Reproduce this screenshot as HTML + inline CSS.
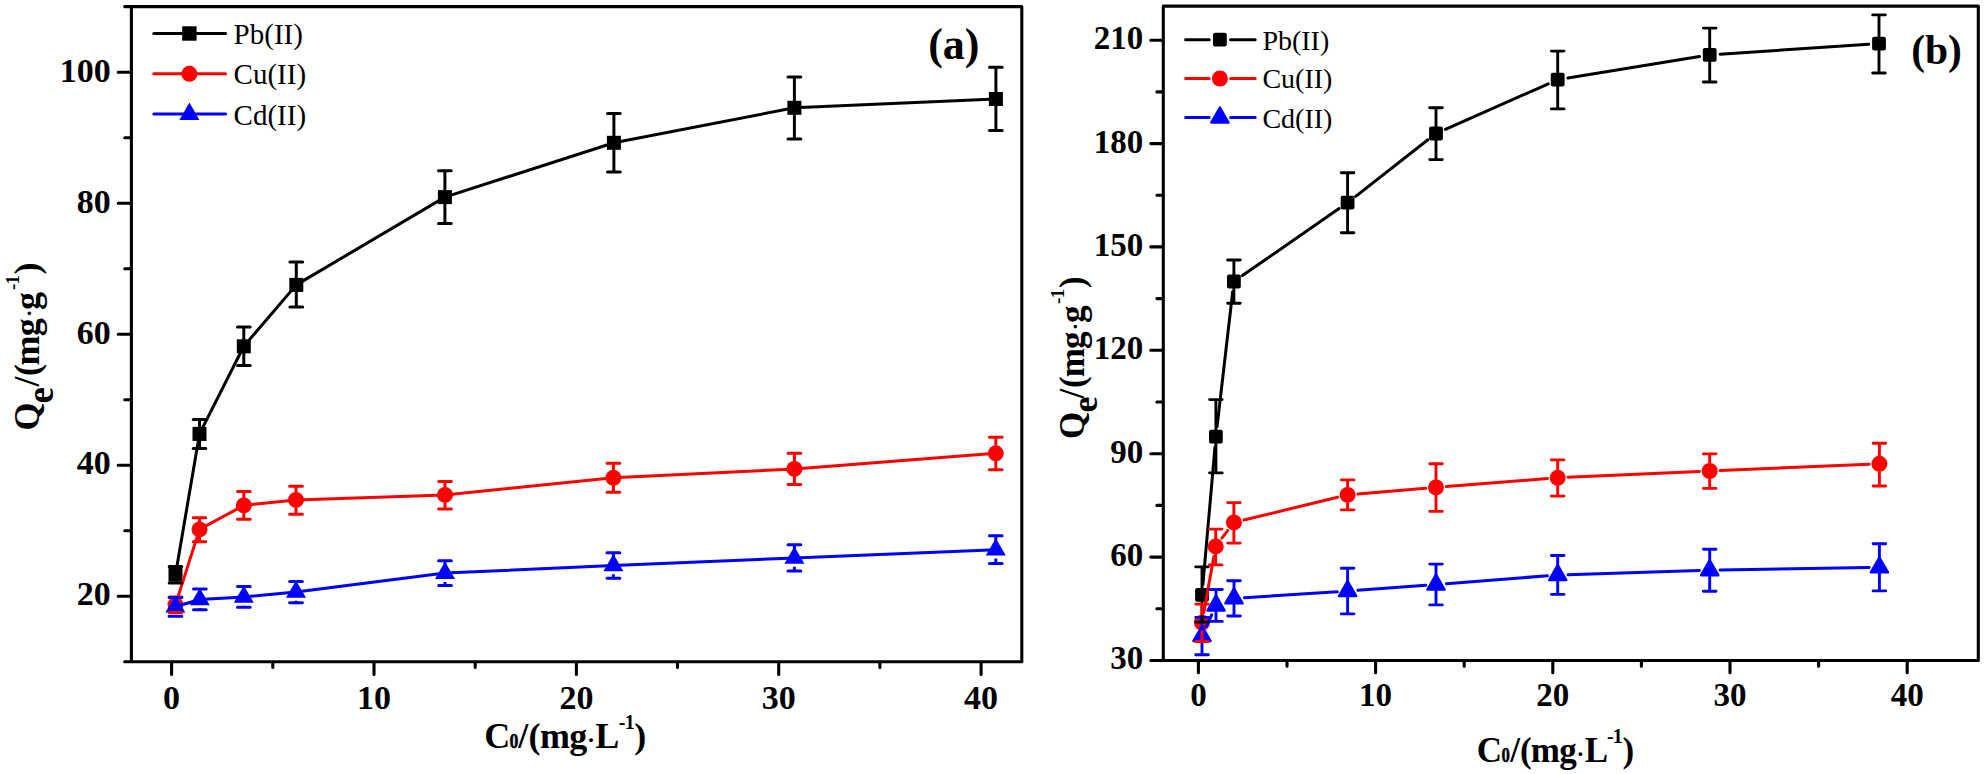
<!DOCTYPE html>
<html lang="en"><head><meta charset="utf-8"><title>Adsorption isotherms</title>
<style>html,body{margin:0;padding:0;background:#fff}svg{display:block}</style></head>
<body>
<svg width="1984" height="774" viewBox="0 0 1984 774">
<rect width="1984" height="774" fill="#fff"/>
<g id="plotA">
<path fill="none" stroke="#000" stroke-width="3.1" stroke-linecap="round" stroke-linejoin="round" d="M124.7 6.6H1021.8V661.8H124.7M131.4 6.6V661.8M118.2 596.2H131.4M118.2 465.2H131.4M118.2 334.3H131.4M118.2 203.3H131.4M118.2 72.3H131.4M124.8 530.7H131.4M124.8 399.8H131.4M124.8 268.8H131.4M124.8 137.8H131.4M171.6 661.8V674.4M374 661.8V674.4M576.4 661.8V674.4M778.7 661.8V674.4M981.1 661.8V674.4M272.8 661.8V667.5M475.2 661.8V667.5M677.5 661.8V667.5M879.9 661.8V667.5"/>
<g font-family="'Liberation Serif',serif" font-weight="bold" font-size="34px" fill="#000">
<text x="110.7" y="605.4" text-anchor="end">20</text>
<text x="110.7" y="474.4" text-anchor="end">40</text>
<text x="110.7" y="343.5" text-anchor="end">60</text>
<text x="110.7" y="212.5" text-anchor="end">80</text>
<text x="110.7" y="81.5" text-anchor="end">100</text>
<text x="171.6" y="709.2" text-anchor="middle">0</text>
<text x="374" y="709.2" text-anchor="middle">10</text>
<text x="576.4" y="709.2" text-anchor="middle">20</text>
<text x="778.7" y="709.2" text-anchor="middle">30</text>
<text x="981.1" y="709.2" text-anchor="middle">40</text>
</g>
<polyline fill="none" stroke="#000" stroke-width="3" stroke-linejoin="round" points="175.5,574.7 199.5,433.9 243.8,346.3 296.3,284.9 444.9,197.1 613.9,142.8 794.4,107.8 995.9,99"/>
<rect x="168.5" y="567.7" width="14" height="14" fill="#000"/>
<rect x="192.5" y="426.9" width="14" height="14" fill="#000"/>
<rect x="236.8" y="339.3" width="14" height="14" fill="#000"/>
<rect x="289.3" y="277.9" width="14" height="14" fill="#000"/>
<rect x="437.9" y="190.1" width="14" height="14" fill="#000"/>
<rect x="606.9" y="135.8" width="14" height="14" fill="#000"/>
<rect x="787.4" y="100.8" width="14" height="14" fill="#000"/>
<rect x="988.9" y="92" width="14" height="14" fill="#000"/>
<polyline fill="none" stroke="#ff0000" stroke-width="3" stroke-linejoin="round" points="175.5,604.6 199.5,529.4 243.8,505.4 296,499.9 445,494.9 613.4,477.8 794.4,468.9 995.8,453.3"/>
<circle cx="175.5" cy="604.6" r="8" fill="#ff0000"/>
<circle cx="199.5" cy="529.4" r="8" fill="#ff0000"/>
<circle cx="243.8" cy="505.4" r="8" fill="#ff0000"/>
<circle cx="296" cy="499.9" r="8" fill="#ff0000"/>
<circle cx="445" cy="494.9" r="8" fill="#ff0000"/>
<circle cx="613.4" cy="477.8" r="8" fill="#ff0000"/>
<circle cx="794.4" cy="468.9" r="8" fill="#ff0000"/>
<circle cx="995.8" cy="453.3" r="8" fill="#ff0000"/>
<polyline fill="none" stroke="#0000ff" stroke-width="3" stroke-linejoin="round" points="175.4,606.8 199.8,599.5 243.8,597 296,592 445,573.1 613.4,565.5 794.4,557.9 995.8,549.7"/>
<polygon points="175.4,595.3 165.4,612.6 185.4,612.6" fill="#0000ff"/>
<polygon points="199.8,588 189.8,605.3 209.8,605.3" fill="#0000ff"/>
<polygon points="243.8,585.5 233.8,602.8 253.8,602.8" fill="#0000ff"/>
<polygon points="296,580.5 286,597.8 306,597.8" fill="#0000ff"/>
<polygon points="445,561.6 435,578.9 455,578.9" fill="#0000ff"/>
<polygon points="613.4,554 603.4,571.3 623.4,571.3" fill="#0000ff"/>
<polygon points="794.4,546.4 784.4,563.7 804.4,563.7" fill="#0000ff"/>
<polygon points="995.8,538.2 985.8,555.5 1005.8,555.5" fill="#0000ff"/>
<path fill="none" stroke="#000" stroke-width="3" d="M175.5 566.4V568.2M175.5 581.2V583M199.5 419.6V427.4M199.5 440.4V448.5M243.8 327.1V339.8M243.8 352.8V365.5M296.3 262.1V278.4M296.3 291.4V307.1M444.9 170.8V190.6M444.9 203.6V223.6M613.9 113.4V136.3M613.9 149.3V171.9M794.4 76.9V101.3M794.4 114.3V138.9M995.9 67.2V92.5M995.9 105.5V130.4"/>
<path fill="none" stroke="#000" stroke-width="3" stroke-linecap="round" d="M169.2 566.4H181.8M169.2 583H181.8M193.2 419.6H205.8M193.2 448.5H205.8M237.5 327.1H250.2M237.5 365.5H250.2M289.9 262.1H302.7M289.9 307.1H302.7M438.5 170.8H451.2M438.5 223.6H451.2M607.5 113.4H620.2M607.5 171.9H620.2M788 76.9H800.8M788 138.9H800.8M989.5 67.2H1002.2M989.5 130.4H1002.2"/>
<path fill="none" stroke="#ff0000" stroke-width="3" d="M175.5 597V597.1M175.5 612.1V612.5M199.5 517.7V521.9M199.5 536.9V541.7M243.8 491.6V497.9M243.8 512.9V519.2M296 486.3V492.4M296 507.4V514.2M445 481.4V487.4M445 502.4V509M613.4 463.2V470.3M613.4 485.3V492.2M794.4 453.3V461.4M794.4 476.4V484.5M995.8 437.2V445.8M995.8 460.8V469.8"/>
<path fill="none" stroke="#ff0000" stroke-width="3" stroke-linecap="round" d="M169.2 597H181.8M169.2 612.5H181.8M193.2 517.7H205.8M193.2 541.7H205.8M237.5 491.6H250.2M237.5 519.2H250.2M289.6 486.3H302.4M289.6 514.2H302.4M438.6 481.4H451.4M438.6 509H451.4M607 463.2H619.8M607 492.2H619.8M788 453.3H800.8M788 484.5H800.8M989.4 437.2H1002.1M989.4 469.8H1002.1"/>
<path fill="none" stroke="#0000ff" stroke-width="3" d="M175.4 597.4V598M175.4 615.6V616.2M199.8 589.1V590.7M199.8 608.3V609.8M243.8 586.6V588.2M243.8 605.8V607.3M296 581.4V583.2M296 600.8V602.7M445 560.8V564.3M445 581.9V585.4M613.4 552.8V556.7M613.4 574.3V578.2M794.4 544.7V549.1M794.4 566.7V571.1M995.8 535.7V540.9M995.8 558.5V563.6"/>
<path fill="none" stroke="#0000ff" stroke-width="3" stroke-linecap="round" d="M169.1 597.4H181.8M169.1 616.2H181.8M193.5 589.1H206.2M193.5 609.8H206.2M237.5 586.6H250.2M237.5 607.3H250.2M289.6 581.4H302.4M289.6 602.7H302.4M438.6 560.8H451.4M438.6 585.4H451.4M607 552.8H619.8M607 578.2H619.8M788 544.7H800.8M788 571.1H800.8M989.4 535.7H1002.1M989.4 563.6H1002.1"/>
<path stroke="#000" stroke-width="3" stroke-linecap="round" d="M153.8 33.5H225.6"/>
<path stroke="#ff0000" stroke-width="3" stroke-linecap="round" d="M153.8 73.8H225.6"/>
<path stroke="#0000ff" stroke-width="3" stroke-linecap="round" d="M153.8 114.1H225.6"/>
<rect x="182.2" y="26.3" width="14.4" height="14.4" fill="#000"/>
<circle cx="189.4" cy="73.8" r="8" fill="#ff0000"/>
<polygon points="189.4,102.6 179.4,119.9 199.4,119.9" fill="#0000ff"/>
<g font-family="'Liberation Serif',serif" font-size="29px" fill="#000">
<text x="233.6" y="44.4">Pb(II)</text><text x="233.6" y="83.9">Cu(II)</text><text x="233.6" y="124.7">Cd(II)</text>
</g>
<text x="928.2" y="58.9" font-family="'Liberation Serif',serif" font-weight="bold" font-size="44px" fill="#000">(a)</text>
<text font-family="'Liberation Serif',serif" font-weight="bold" fill="#000"><tspan x="484.2" y="747.6" font-size="36px">C</tspan><tspan x="509.5" y="747.6" font-size="21px" textLength="8.9" lengthAdjust="spacingAndGlyphs" stroke="#000" stroke-width="0.5">0</tspan><tspan x="518.2" y="747.6" font-size="36px">/</tspan><tspan x="528.5" y="747.6" font-size="36px">(</tspan><tspan x="539.9" y="747.6" font-size="36px">m</tspan><tspan x="569.2" y="747.6" font-size="36px">g</tspan><tspan x="587" y="747.6" font-size="24px">·</tspan><tspan x="595.2" y="747.6" font-size="36px">L</tspan><tspan x="618.8" y="728.6" font-size="20px">-</tspan><tspan x="624.8" y="728.6" font-size="20px">1</tspan><tspan x="634.2" y="747.6" font-size="36px">)</tspan></text>
<text transform="rotate(-90)" font-family="'Liberation Serif',serif" font-weight="bold" fill="#000"><tspan x="-430.6" y="38.5" font-size="36px">Q</tspan><tspan x="-403.5" y="52.9" font-size="37px">e</tspan><tspan x="-386.4" y="38.5" font-size="36px">/</tspan><tspan x="-376" y="38.5" font-size="36px">(</tspan><tspan x="-365.6" y="38.5" font-size="36px">m</tspan><tspan x="-336.2" y="38.5" font-size="36px">g</tspan><tspan x="-317" y="36.3" font-size="22px">·</tspan><tspan x="-310" y="38.5" font-size="36px">g</tspan><tspan x="-290" y="18.5" font-size="19px">-</tspan><tspan x="-284.5" y="18.5" font-size="19px">1</tspan><tspan x="-274.5" y="38.5" font-size="36px">)</tspan></text>
</g>
<g id="plotB">
<path fill="none" stroke="#000" stroke-width="3.1" stroke-linecap="round" stroke-linejoin="round" d="M1163.3 6.1H1978.3V660.5H1150.8M1163.3 6.1V660.5M1150.8 557.1H1163.3M1150.8 453.7H1163.3M1150.8 350.3H1163.3M1150.8 246.9H1163.3M1150.8 143.6H1163.3M1150.8 40.2H1163.3M1156.9 608.8H1163.3M1156.9 505.4H1163.3M1156.9 402H1163.3M1156.9 298.6H1163.3M1156.9 195.3H1163.3M1156.9 91.9H1163.3M1198.4 660.5V672.7M1375.6 660.5V672.7M1552.8 660.5V672.7M1730 660.5V672.7M1907.2 660.5V672.7M1287 660.5V666.3M1464.2 660.5V666.3M1641.4 660.5V666.3M1818.6 660.5V666.3"/>
<g font-family="'Liberation Serif',serif" font-weight="bold" font-size="33px" fill="#000">
<text x="1143.3" y="669.4" text-anchor="end">30</text>
<text x="1143.3" y="566.1" text-anchor="end">60</text>
<text x="1143.3" y="462.7" text-anchor="end">90</text>
<text x="1143.3" y="359.3" text-anchor="end">120</text>
<text x="1143.3" y="255.9" text-anchor="end">150</text>
<text x="1143.3" y="152.6" text-anchor="end">180</text>
<text x="1143.3" y="49.2" text-anchor="end">210</text>
<text x="1198.4" y="706.3" text-anchor="middle">0</text>
<text x="1375.6" y="706.3" text-anchor="middle">10</text>
<text x="1552.8" y="706.3" text-anchor="middle">20</text>
<text x="1730" y="706.3" text-anchor="middle">30</text>
<text x="1907.2" y="706.3" text-anchor="middle">40</text>
</g>
<path fill="none" stroke="#000" stroke-width="3" stroke-linecap="round" d="M1202.9 584.5L1215 447M1217.1 426.5L1232.7 291.7M1242.4 275.6L1339.1 208.6M1355.7 196.4L1427.9 139.8M1445.4 129.3L1548.3 83.8M1567.9 77.9L1699.5 56.6M1720 54.2L1868.7 44.3"/>
<rect x="1195.1" y="587.9" width="13.8" height="13.8" fill="#000" rx="2"/>
<rect x="1209" y="429.8" width="13.8" height="13.8" fill="#000" rx="2"/>
<rect x="1227" y="274.6" width="13.8" height="13.8" fill="#000" rx="2"/>
<rect x="1340.7" y="195.8" width="13.8" height="13.8" fill="#000" rx="2"/>
<rect x="1429.1" y="126.6" width="13.8" height="13.8" fill="#000" rx="2"/>
<rect x="1550.8" y="72.7" width="13.8" height="13.8" fill="#000" rx="2"/>
<rect x="1702.8" y="48" width="13.8" height="13.8" fill="#000" rx="2"/>
<rect x="1872.1" y="36.7" width="13.8" height="13.8" fill="#000" rx="2"/>
<path fill="none" stroke="#ff0000" stroke-width="3" stroke-linecap="round" d="M1203.8 612.6L1213.9 556.5M1221.9 538.2L1227.7 530.6M1243.9 520L1337.6 497.3M1357.9 494L1425.7 488.3M1446.3 486.6L1547.4 478.6M1568 477.3L1699.4 471.5M1720 470.6L1869.1 464.2"/>
<circle cx="1202" cy="622.7" r="8" fill="#ff0000"/>
<circle cx="1215.7" cy="546.4" r="8" fill="#ff0000"/>
<circle cx="1233.9" cy="522.4" r="8" fill="#ff0000"/>
<circle cx="1347.6" cy="494.9" r="8" fill="#ff0000"/>
<circle cx="1436" cy="487.4" r="8" fill="#ff0000"/>
<circle cx="1557.7" cy="477.8" r="8" fill="#ff0000"/>
<circle cx="1709.7" cy="471" r="8" fill="#ff0000"/>
<circle cx="1879.4" cy="463.8" r="8" fill="#ff0000"/>
<path fill="none" stroke="#0000ff" stroke-width="3" stroke-linecap="round" d="M1206.3 626.6L1211.7 614.9M1244.3 597.7L1337.3 591.8M1357.9 590.3L1425.7 585.3M1446.3 583.7L1547.4 575.8M1568 574.7L1699.4 570.5M1720 570L1869.1 567.6"/>
<polygon points="1202,626.1 1193.4,641 1210.6,641" fill="#0000ff" stroke="#0000ff" stroke-width="2.4" stroke-linejoin="round"/>
<polygon points="1216,595.6 1207.4,610.5 1224.6,610.5" fill="#0000ff" stroke="#0000ff" stroke-width="2.4" stroke-linejoin="round"/>
<polygon points="1234,588.5 1225.4,603.4 1242.6,603.4" fill="#0000ff" stroke="#0000ff" stroke-width="2.4" stroke-linejoin="round"/>
<polygon points="1347.6,581.2 1339,596.1 1356.2,596.1" fill="#0000ff" stroke="#0000ff" stroke-width="2.4" stroke-linejoin="round"/>
<polygon points="1436,574.6 1427.4,589.5 1444.6,589.5" fill="#0000ff" stroke="#0000ff" stroke-width="2.4" stroke-linejoin="round"/>
<polygon points="1557.7,565.1 1549.1,580 1566.3,580" fill="#0000ff" stroke="#0000ff" stroke-width="2.4" stroke-linejoin="round"/>
<polygon points="1709.7,560.3 1701.1,575.2 1718.3,575.2" fill="#0000ff" stroke="#0000ff" stroke-width="2.4" stroke-linejoin="round"/>
<polygon points="1879.4,557.5 1870.8,572.4 1888,572.4" fill="#0000ff" stroke="#0000ff" stroke-width="2.4" stroke-linejoin="round"/>
<path fill="none" stroke="#0000ff" stroke-width="2.9" d="M1202 617.4V630.5M1202 641.5V654.7M1216 589.5V600M1216 611V621.4M1234 580.7V592.9M1234 603.9V616M1347.6 568.3V585.6M1347.6 596.6V613.9M1436 564.1V579M1436 590V604.9M1557.7 555.5V569.5M1557.7 580.5V594.4M1709.7 549.2V564.7M1709.7 575.7V591.2M1879.4 543.8V561.9M1879.4 572.9V590.9"/>
<path fill="none" stroke="#0000ff" stroke-width="2.9" stroke-linecap="round" d="M1195.7 617.4H1208.3M1195.7 654.7H1208.3M1209.7 589.5H1222.3M1209.7 621.4H1222.3M1227.7 580.7H1240.3M1227.7 616H1240.3M1341.3 568.3H1353.9M1341.3 613.9H1353.9M1429.7 564.1H1442.3M1429.7 604.9H1442.3M1551.4 555.5H1564M1551.4 594.4H1564M1703.4 549.2H1716M1703.4 591.2H1716M1873.1 543.8H1885.7M1873.1 590.9H1885.7"/>
<path fill="none" stroke="#000" stroke-width="2.9" d="M1202 566.9V622M1215.9 399.6V472.9M1233.9 260V303.3M1347.6 172.8V232.7M1436 107.7V159.6M1557.7 51.1V108.9M1709.7 28.1V82M1879 14.9V73"/>
<path fill="none" stroke="#000" stroke-width="2.9" stroke-linecap="round" d="M1195.7 566.9H1208.3M1195.7 622H1208.3M1209.6 399.6H1222.2M1209.6 472.9H1222.2M1227.6 260H1240.2M1227.6 303.3H1240.2M1341.3 172.8H1353.9M1341.3 232.7H1353.9M1429.7 107.7H1442.3M1429.7 159.6H1442.3M1551.4 51.1H1564M1551.4 108.9H1564M1703.4 28.1H1716M1703.4 82H1716M1872.7 14.9H1885.3M1872.7 73H1885.3"/>
<path fill="none" stroke="#ff0000" stroke-width="2.9" d="M1202 604.1V615.2M1202 630.2V641.5M1215.7 529.1V538.9M1215.7 553.9V564.9M1233.9 502.6V514.9M1233.9 529.9V543.1M1347.6 479.9V487.4M1347.6 502.4V509.9M1436 463.8V479.9M1436 494.9V511.4M1557.7 459.9V470.3M1557.7 485.3V496.1M1709.7 453.9V463.5M1709.7 478.5V488.4M1879.4 443.2V456.3M1879.4 471.3V486"/>
<path fill="none" stroke="#ff0000" stroke-width="2.9" stroke-linecap="round" d="M1195.7 604.1H1208.3M1195.7 641.5H1208.3M1209.4 529.1H1222M1209.4 564.9H1222M1227.6 502.6H1240.2M1227.6 543.1H1240.2M1341.3 479.9H1353.9M1341.3 509.9H1353.9M1429.7 463.8H1442.3M1429.7 511.4H1442.3M1551.4 459.9H1564M1551.4 496.1H1564M1703.4 453.9H1716M1703.4 488.4H1716M1873.1 443.2H1885.7M1873.1 486H1885.7"/>
<path stroke="#000" stroke-width="3" stroke-linecap="round" d="M1185.6 39.7H1209.2M1230.6 39.7H1255.2"/>
<path stroke="#ff0000" stroke-width="3" stroke-linecap="round" d="M1185.6 78.5H1209.2M1230.6 78.5H1255.2"/>
<path stroke="#0000ff" stroke-width="3" stroke-linecap="round" d="M1185.6 117.5H1209.2M1230.6 117.5H1255.2"/>
<rect x="1213" y="32.8" width="13.8" height="13.8" fill="#000" rx="2"/>
<circle cx="1219.9" cy="78.5" r="8" fill="#ff0000"/>
<polygon points="1219.9,107.6 1211.3,122.5 1228.5,122.5" fill="#0000ff" stroke="#0000ff" stroke-width="2.4" stroke-linejoin="round"/>
<g font-family="'Liberation Serif',serif" font-size="28px" fill="#000">
<text x="1262.4" y="50">Pb(II)</text><text x="1262.4" y="88.4">Cu(II)</text><text x="1262.4" y="127.6">Cd(II)</text>
</g>
<text x="1911.2" y="64" font-family="'Liberation Serif',serif" font-weight="bold" font-size="41.5px" fill="#000">(b)</text>
<text font-family="'Liberation Serif',serif" font-weight="bold" fill="#000"><tspan x="1476.8" y="761.5" font-size="35px">C</tspan><tspan x="1501.6" y="761.5" font-size="21px" textLength="8.4" lengthAdjust="spacingAndGlyphs" stroke="#000" stroke-width="0.5">0</tspan><tspan x="1510.3" y="761.5" font-size="35px">/</tspan><tspan x="1520" y="761.5" font-size="35px">(</tspan><tspan x="1530.7" y="761.5" font-size="35px">m</tspan><tspan x="1559.3" y="761.5" font-size="35px">g</tspan><tspan x="1576.4" y="761.5" font-size="23px">·</tspan><tspan x="1584.8" y="761.5" font-size="35px">L</tspan><tspan x="1607.1" y="743.4" font-size="20px">-</tspan><tspan x="1612.8" y="743.4" font-size="20px">1</tspan><tspan x="1622.5" y="761.5" font-size="35px">)</tspan></text>
<text transform="rotate(-90)" font-family="'Liberation Serif',serif" font-weight="bold" fill="#000"><tspan x="-439.1" y="1084" font-size="35px">Q</tspan><tspan x="-412.6" y="1097.1" font-size="36px">e</tspan><tspan x="-398.6" y="1084" font-size="35px">/</tspan><tspan x="-387.9" y="1084" font-size="35px">(</tspan><tspan x="-377.3" y="1084" font-size="35px">m</tspan><tspan x="-349" y="1084" font-size="35px">g</tspan><tspan x="-330.2" y="1082.4" font-size="22px">·</tspan><tspan x="-323" y="1084" font-size="35px">g</tspan><tspan x="-303.9" y="1063.6" font-size="19px">-</tspan><tspan x="-298.2" y="1063.6" font-size="19px">1</tspan><tspan x="-288" y="1084" font-size="35px">)</tspan></text>
</g>
</svg>
</body></html>
